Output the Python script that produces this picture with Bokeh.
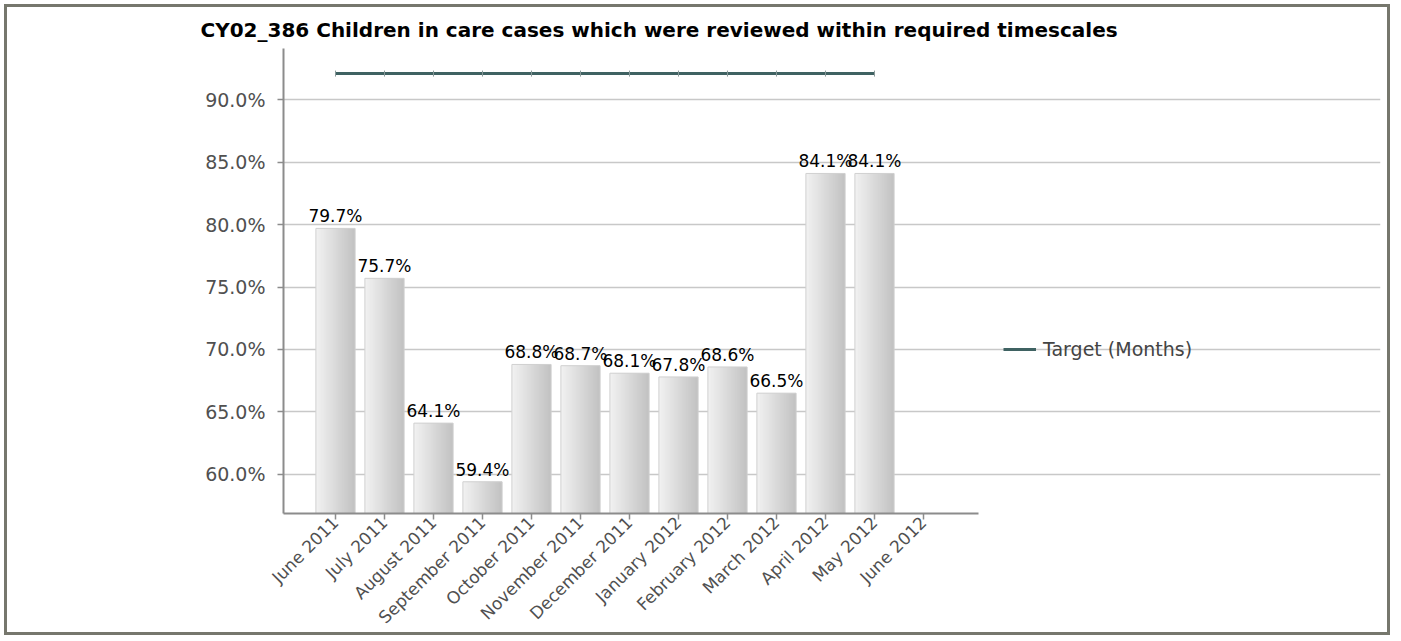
import math
from bokeh.plotting import figure
from bokeh.models import (Range1d, FixedTicker, PrintfTickFormatter, Legend,
                          LegendItem)
from bokeh.core.properties import value
from bokeh.embed import file_html
from bokeh.resources import INLINE

# ---------------- data ----------------
months = ["June 2011", "July 2011", "August 2011", "September 2011",
          "October 2011", "November 2011", "December 2011", "January 2012",
          "February 2012", "March 2012", "April 2012", "May 2012", "June 2012"]
review_pct = [79.7, 75.7, 64.1, 59.4, 68.8, 68.7, 68.1, 67.8, 68.6, 66.5, 84.1, 84.1]
target_pct = [92.1, 92.1, 92.1, 92.1, 92.1, 92.1, 92.1, 92.1, 92.1, 92.1, 92.1, 92.1]
y_ticks = [60, 65, 70, 75, 80, 85, 90]
title_text = "CY02_386 Children in care cases which were reviewed within required timescales"
legend_label = "Target (Months)"

FONT = "DejaVu Sans"

bar_x = list(range(len(review_pct)))
tgt_x = list(range(len(target_pct)))

# visible chart area in data units (axes and grid are bounded to it)
X0, X1 = -1.061, 13.12
Y0, Y1 = 56.86, 94.11

p = figure(width=1386, height=631, output_backend="svg", toolbar_location=None,
           x_range=Range1d(X0, 21.327), y_range=Range1d(Y0, Y1),
           min_border_left=276, min_border_right=13, min_border_top=41,
           min_border_bottom=125)
p.outline_line_color = None
p.background_fill_color = "white"
p.border_fill_color = "white"
p.styles = {"border": "3px solid #76776d", "margin-left": "4px", "margin-top": "4px"}

# ------------- bars with horizontal gradient -------------
bw = 0.8
N = 40
s = bw / N
c0 = (0xf1, 0xf1, 0xf1)
c1 = (0xc2, 0xc2, 0xc2)
for k in range(N):
    t = k / (N - 1)
    col = "#%02x%02x%02x" % tuple(int(round(a + (b - a) * t)) for a, b in zip(c0, c1))
    lefts = [xi - bw / 2 + k * s for xi in bar_x]
    rights = [min(l + 2 * s, xi + bw / 2) for l, xi in zip(lefts, bar_x)]
    p.quad(left=lefts, right=rights, top=review_pct, bottom=0,
           fill_color=col, line_color=None)
p.vbar(x=bar_x, top=review_pct, bottom=0, width=bw, fill_color=None,
       line_color="#d0d0d0", line_width=1)

# value labels
p.text(x=bar_x, y=review_pct, text=["%.1f%%" % v for v in review_pct],
       text_align="center", text_baseline="alphabetic", y_offset=-12,
       text_font=value(FONT), text_font_size="17px", text_color="#000000")

# ------------- target line -------------
tl = p.line(x=tgt_x, y=target_pct, line_color="#3f6262", line_width=3)
p.scatter(x=tgt_x, y=target_pct, marker="dash", angle=math.pi / 2, size=6,
          line_color="#8a9a9a", line_width=1)

# ------------- axes -------------
for ax in (p.xaxis, p.yaxis):
    ax.axis_line_color = "#8c8c8c"
    ax.axis_line_width = 2
    ax.major_tick_line_color = "#8c8c8c"
    ax.major_tick_line_width = 1.5
    ax.major_tick_out = 6
    ax.major_tick_in = 0
    ax.minor_tick_line_color = None
    ax.major_label_text_font = FONT
    ax.major_label_text_color = "#505050"

p.yaxis.bounds = (Y0, Y1)
p.yaxis.ticker = FixedTicker(ticks=y_ticks)
p.yaxis.formatter = PrintfTickFormatter(format="%.1f%%")
p.yaxis.major_label_text_font_size = "19px"
p.yaxis.major_label_standoff = 12

p.xaxis.bounds = (X0, X1)
p.xaxis.ticker = FixedTicker(ticks=list(range(len(months))))
p.xaxis.major_label_overrides = {i: m for i, m in enumerate(months)}
p.xaxis.major_label_orientation = math.pi / 4
p.xaxis.major_label_text_font_size = "17px"
p.xaxis.major_label_standoff = 0

p.xgrid.visible = False
p.ygrid.ticker = FixedTicker(ticks=y_ticks)
p.ygrid.bounds = (X0, X1)
p.ygrid.grid_line_color = "#c8c8c8"
p.ygrid.grid_line_width = 1.5

# ------------- title -------------
p.title.text = title_text
p.title.align = "left"
p.title.offset = -83
p.title.text_font = FONT
p.title.text_font_style = "bold"
p.title.text_font_size = "20px"
p.title.text_color = "#000000"
p.title.standoff = 14

# ------------- legend -------------
legend = Legend(items=[LegendItem(label=legend_label, renderers=[tl])],
                location=(720, 153), padding=0, margin=0, spacing=0,
                glyph_width=33, glyph_height=22, label_standoff=7,
                label_text_font=FONT, label_text_font_size="19px",
                label_text_color="#444444", border_line_color=None,
                background_fill_alpha=0)
p.add_layout(legend, "center")

open("out.html", "w").write(file_html(p, INLINE))
